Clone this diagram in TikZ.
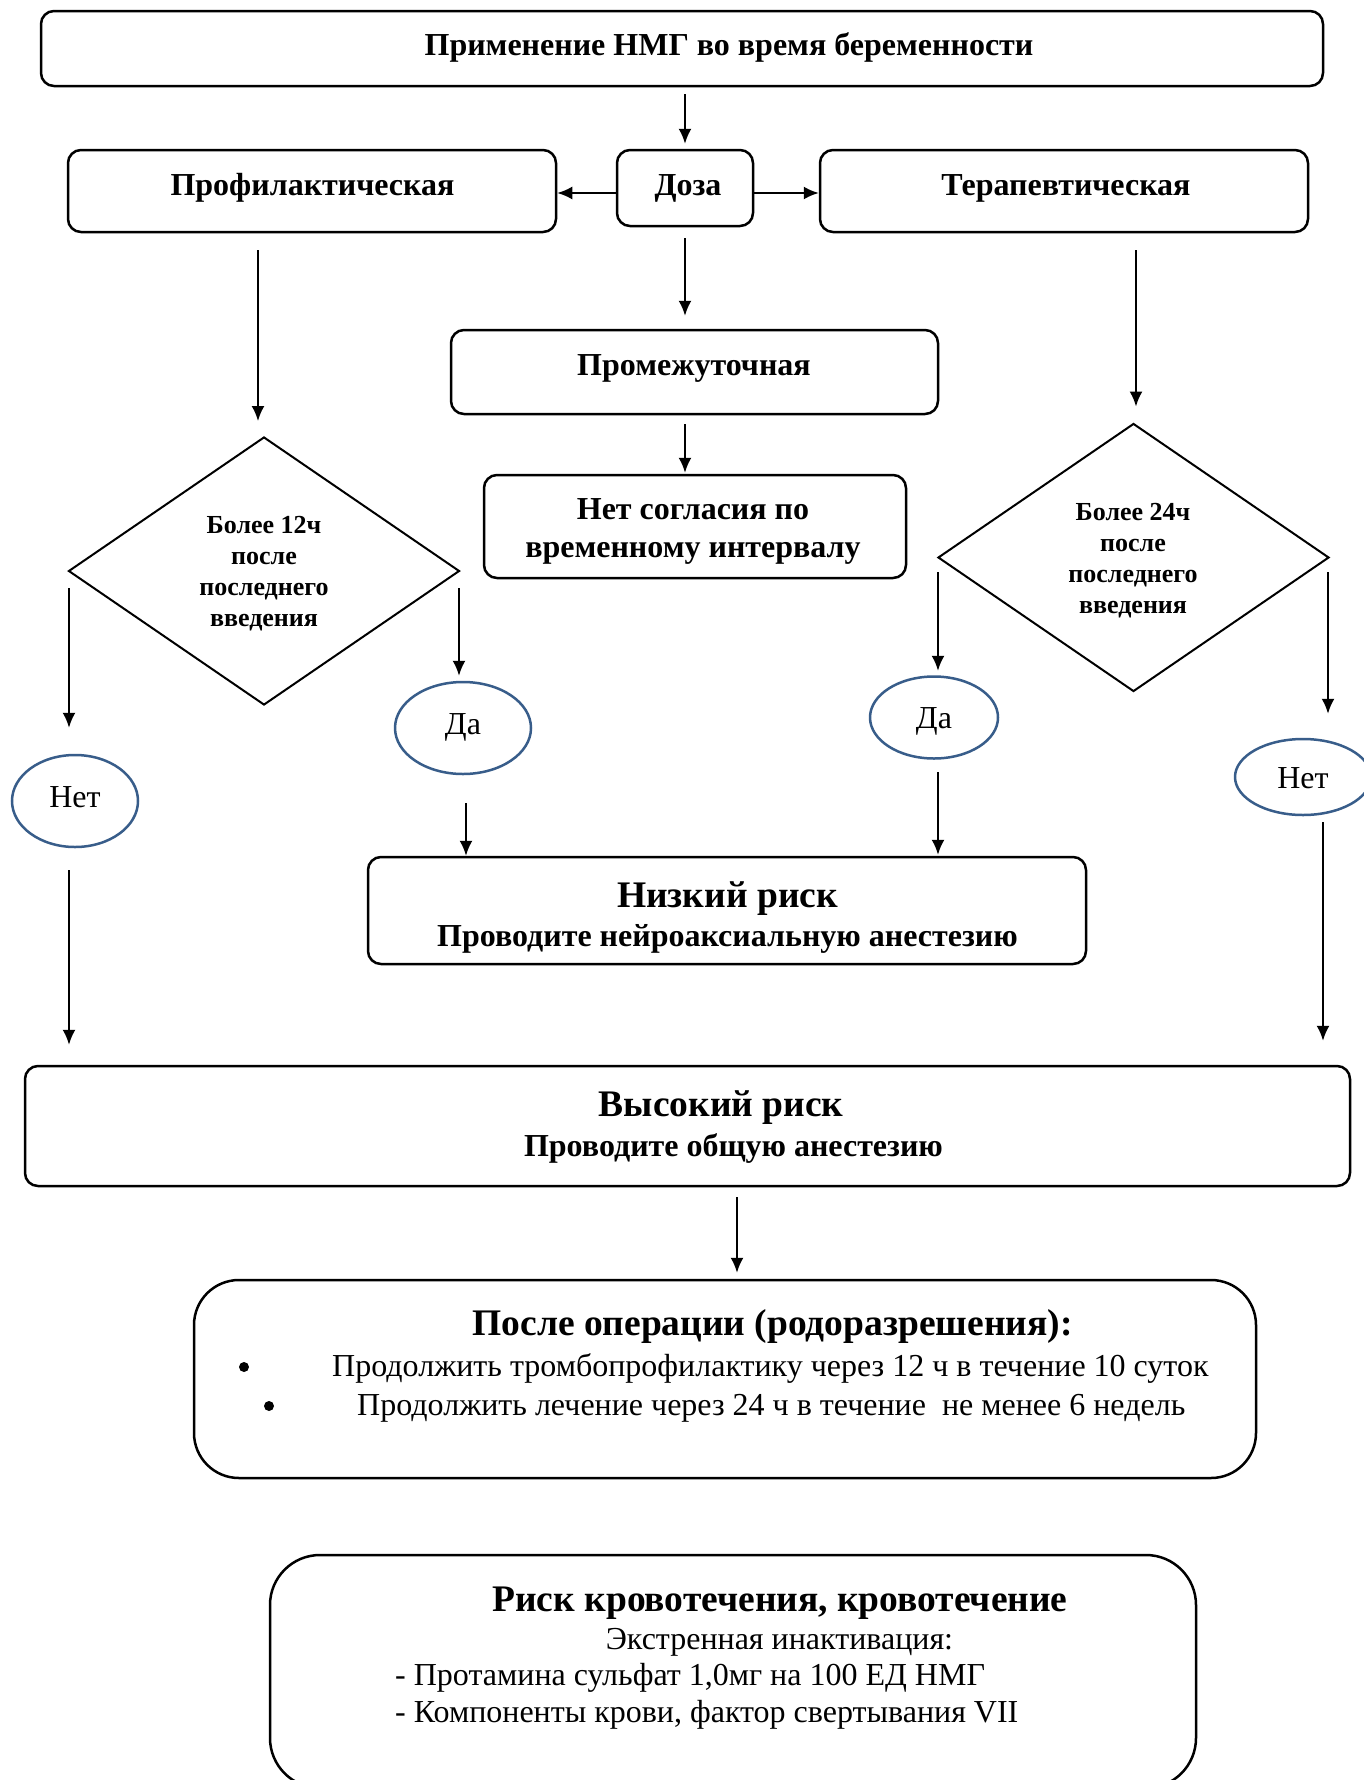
\documentclass[tikz,border=0pt]{standalone}
\usepackage{fontspec}
\setmainfont{Liberation Serif}
\usetikzlibrary{shapes.geometric,arrows.meta}
\definecolor{ellblue}{RGB}{56,93,138}
\begin{document}
\begin{tikzpicture}[x=1pt,y=-1pt,
  box/.style={draw,line width=2.5pt,rounded corners=13pt,inner sep=0pt},
  arr/.style={line width=2pt,-{Latex[length=15pt,width=13pt]}},
  dia/.style={draw,diamond,line width=2pt,inner sep=0pt,minimum width=391pt,minimum height=268pt},
  ell/.style={draw=ellblue,ellipse,line width=2.5pt,inner sep=0pt},
  bt/.style={font=\fontsize{32}{38}\selectfont\bfseries,anchor=base,inner sep=0pt},
  bth/.style={font=\fontsize{37.5}{44}\selectfont\bfseries,anchor=base,inner sep=0pt},
  btd/.style={font=\fontsize{26}{31}\selectfont\bfseries,anchor=base,inner sep=0pt},
  rt/.style={font=\fontsize{32}{38}\selectfont,anchor=base,inner sep=0pt},
  rtl/.style={font=\fontsize{32}{38}\selectfont,anchor=base west,inner sep=0pt},
  dot/.style={circle,fill,inner sep=0pt,minimum size=10pt}]
\useasboundingbox[fill=white] (0,0) rectangle (1364,1780);

% boxes
\node[box,minimum width=1282pt,minimum height=75pt] (top) at (682,48.5) {};
\node[box,minimum width=488pt,minimum height=82pt] (prof) at (312,191) {};
\node[box,minimum width=136pt,minimum height=76pt] (doza) at (685,188) {};
\node[box,minimum width=488pt,minimum height=82pt] (ter) at (1064,191) {};
\node[box,minimum width=487pt,minimum height=84pt] (prom) at (694.5,372) {};
\node[box,minimum width=422pt,minimum height=103pt] (nsogl) at (695,526.5) {};
\node[dia] (dL) at (264,571) {};
\node[dia] (dR) at (1133.5,557.5) {};
\node[ell,minimum width=126pt,minimum height=92pt] (netL) at (75,801) {};
\node[ell,minimum width=136pt,minimum height=92pt] (daL) at (463,728) {};
\node[ell,minimum width=128pt,minimum height=82pt] (daR) at (934,717.5) {};
\node[ell,minimum width=136pt,minimum height=76pt] (netR) at (1303,777) {};
\node[box,minimum width=718pt,minimum height=107pt] (nizk) at (727,910.5) {};
\node[box,minimum width=1325pt,minimum height=120pt] (vys) at (687.5,1126) {};
\node[box,rounded corners=45pt,minimum width=1062pt,minimum height=198pt] (posle) at (725,1379) {};
\node[box,rounded corners=50pt,minimum width=926pt,minimum height=233pt] (risk) at (733,1671.5) {};

% texts
\node[bt] (t1) at (729,55) {Применение НМГ во время беременности};
\node[bt] (t2) at (312.5,195) {Профилактическая};
\node[bt] (t3) at (688,195) {Доза};
\node[bt] (t4) at (1066,195) {Терапевтическая};
\node[bt] (t5) at (694,375) {Промежуточная};
\node[bt] (t6) at (693,519) {Нет согласия по};
\node[bt] (t7) at (693,557) {временному интервалу};
\node[btd] (dl1) at (264,533) {Более 12ч};
\node[btd] (dl2) at (264,564) {после};
\node[btd] (dl3) at (264,595) {последнего};
\node[btd] (dl4) at (264,626) {введения};
\node[btd] (dr1) at (1133,520) {Более 24ч};
\node[btd] (dr2) at (1133,551) {после};
\node[btd] (dr3) at (1133,582) {последнего};
\node[btd] (dr4) at (1133,613) {введения};
\node[rt] (tnL) at (75,807) {Нет};
\node[rt] (tdL) at (463,734) {Да};
\node[rt] (tdR) at (934,728) {Да};
\node[rt] (tnR) at (1303,788) {Нет};
\node[bth] (n1) at (727.5,907) {Низкий риск};
\node[bt] (n2) at (727.5,946) {Проводите нейроаксиальную анестезию};
\node[bth] (v1) at (721,1116) {Высокий риск};
\node[bt] (v2) at (733.5,1156) {Проводите общую анестезию};
\node[bth] (p1) at (772.5,1335) {После операции (родоразрешения):};
\node[dot] (b1) at (244,1367) {};
\node[rtl] (p2) at (332,1376) {Продолжить тромбопрофилактику через 12 ч в течение 10 суток};
\node[dot] (b2) at (269,1406) {};
\node[rtl] (p3) at (357,1415) {Продолжить лечение через 24 ч в течение\ \ не менее 6 недель};
\node[bth] (r1) at (780,1611) {Риск кровотечения, кровотечение};
\node[rt] (r2) at (779.5,1649.5) {Экстренная инактивация:};
\node[rtl] (r3) at (395,1685.5) {- Протамина сульфат 1,0мг на 100 ЕД НМГ};
\node[rtl] (r4) at (395,1722.5) {- Компоненты крови, фактор свертывания VII};

% helper x positions
\coordinate (x69) at (69,0);
\coordinate (x258) at (258,0);
\coordinate (x459) at (459,0);
\coordinate (x466) at (466,0);
\coordinate (x737) at (737,0);
\coordinate (x938) at (938,0);
\coordinate (x1136) at (1136,0);
\coordinate (x1323) at (1323,0);
\coordinate (x1328) at (1328,0);
\coordinate (dzy) at (0,193);

% connectors
\draw[arr,shorten <=7pt,shorten >=5pt] (top.south -| doza.north) -- (doza.north);
\draw[arr] (doza.west |- dzy) -- (prof.east |- dzy);
\draw[arr] (doza.east |- dzy) -- (ter.west |- dzy);
\draw[arr,shorten <=11pt,shorten >=13pt] (doza.south) -- (doza.south |- prom.north);
\draw[arr,shorten <=9pt,shorten >=1pt] (prom.south -| doza.south) -- (nsogl.north -| doza.south);
\draw[arr,shorten <=17pt,shorten >=15pt] (prof.south -| x258) -- (dL.north -| x258);
\draw[arr,shorten <=17pt,shorten >=16pt] (ter.south -| x1136) -- (dR.north -| x1136);
\draw[arr,shorten <=17pt,shorten >=26pt] (dL.west -| x69) -- (netL.north -| x69);
\draw[arr,shorten <=17pt,shorten >=5pt] (dL.east -| x459) -- (daL.north -| x459);
\draw[arr,shorten <=28pt] (daL.south -| x466) -- (nizk.north -| x466);
\draw[arr,shorten <=22pt,shorten >=20pt] (netL.south -| x69) -- (vys.north -| x69);
\draw[arr,shorten <=14.5pt,shorten >=4.5pt] (dR.west -| x938) -- (daR.north -| x938);
\draw[arr,shorten <=12.5pt,shorten >=1pt] (daR.south -| x938) -- (nizk.north -| x938);
\draw[arr,shorten <=14.5pt,shorten >=24pt] (dR.east -| x1328) -- (netR.north -| x1328);
\draw[arr,shorten <=6pt,shorten >=24pt] (netR.south -| x1323) -- (vys.north -| x1323);
\draw[arr,shorten <=10pt,shorten >=6pt] (vys.south -| x737) -- (posle.north -| x737);
\end{tikzpicture}
\end{document}
